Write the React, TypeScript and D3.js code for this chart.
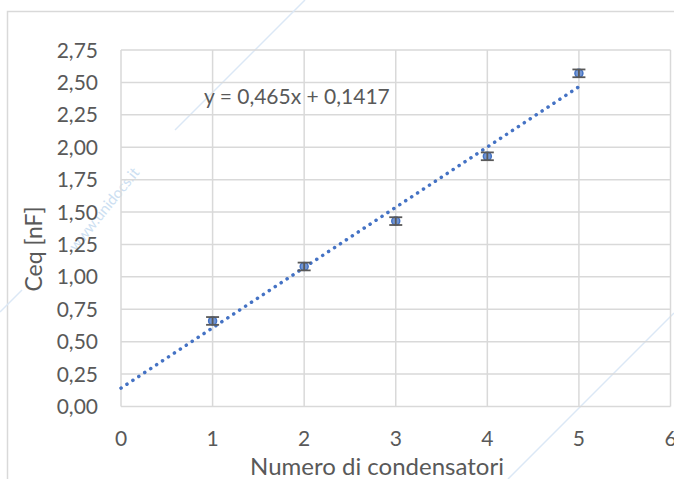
import React from "react";
import * as d3 from "d3";

const xValues = [1, 2, 3, 4, 5];
const yValues = [0.66, 1.08, 1.43, 1.93, 2.57];
const yErrors = [0.03, 0.03, 0.03, 0.03, 0.03];
const slope = 0.465;
const intercept = 0.1417;
const xTicks = [0, 1, 2, 3, 4, 5, 6];
const yTicks = [0, 0.25, 0.5, 0.75, 1, 1.25, 1.5, 1.75, 2, 2.25, 2.5, 2.75];
const xTitle = "Numero di condensatori";
const yTitle = "Ceq [nF]";
const equation = "y = 0,465x + 0,1417";

const W = 674;
const H = 479;
const FONT = "Lato, 'Open Sans', sans-serif";
const TXT = "#595959";
const GRID = "#d9d9d9";
const BLUE = "#4472C4";

export default function App() {
  const x = d3.scaleLinear().domain([0, 6]).range([121, 670.5]);
  const y = d3.scaleLinear().domain([0, 2.75]).range([406.5, 50]);
  const fmt = (v: number) => d3.format(".2f")(v).replace(".", ",");
  const trend = d3
    .line<number>()
    .x((d) => x(d))
    .y((d) => y(slope * d + intercept));

  return (
    <svg
      width={W}
      height={H}
      style={{ position: "absolute", left: 0, top: 0, background: "#fff" }}
      fontFamily={FONT}
    >
      <rect x={0} y={0} width={W} height={H} fill="#fff" />
      {/* outer border */}
      <rect x={7.5} y={11.5} width={W + 10} height={H + 10} fill="none" stroke={GRID} strokeWidth={1.5} />

      {/* watermark */}
      <g stroke="#dbe8f6" strokeWidth={1.5}>
        <line x1={305} y1={0} x2={175} y2={130} />
        <line x1={674} y1={313} x2={508} y2={479} />
        <line x1={22} y1={290} x2={0} y2={312} />
      </g>
      <text
        x={0}
        y={0}
        transform="translate(76,252) rotate(-51)"
        fontSize={15}
        fill="#cddff2"
      >
        www.unidocs.it
      </text>

      {/* gridlines */}
      <g stroke={GRID} strokeWidth={1.5}>
        {yTicks.map((t) => (
          <line key={"h" + t} x1={x(0)} x2={x(6)} y1={y(t)} y2={y(t)} />
        ))}
        {xTicks.map((t) => (
          <line key={"v" + t} x1={x(t)} x2={x(t)} y1={y(0)} y2={y(2.75)} />
        ))}
      </g>

      {/* y tick labels */}
      {yTicks.map((t) => (
        <text key={"yl" + t} x={98} y={y(t)} dy="0.36em" textAnchor="end" fontSize={21} fill={TXT}>
          {fmt(t)}
        </text>
      ))}
      {/* x tick labels */}
      {xTicks.map((t) => (
        <text key={"xl" + t} x={x(t)} y={446} textAnchor="middle" fontSize={21} fill={TXT}>
          {String(t)}
        </text>
      ))}

      {/* axis titles */}
      <text x={377} y={475} textAnchor="middle" fontSize={24} fill={TXT}>
        {xTitle}
      </text>
      <text
        transform={`translate(42,${249}) rotate(-90)`}
        textAnchor="middle"
        fontSize={23}
        fill={TXT}
      >
        {yTitle}
      </text>

      {/* trendline */}
      <path
        d={trend([0, 5]) || ""}
        fill="none"
        stroke={BLUE}
        strokeWidth={3.5}
        strokeLinecap="round"
        strokeDasharray="0.1 7"
      />

      {/* markers */}
      {xValues.map((xv, i) => (
        <circle key={"m" + i} cx={x(xv)} cy={y(yValues[i])} r={4} fill="#7396d3" stroke={BLUE} strokeWidth={1.5} />
      ))}
      {/* error bars */}
      <g stroke={TXT} strokeWidth={1.8}>
        {xValues.map((xv, i) => {
          const top = y(yValues[i] + yErrors[i]);
          const bot = y(yValues[i] - yErrors[i]);
          const cx = x(xv);
          return (
            <g key={"e" + i}>
              <line x1={cx} x2={cx} y1={top} y2={bot} />
              <line x1={cx - 6.5} x2={cx + 6.5} y1={top} y2={top} />
              <line x1={cx - 6.5} x2={cx + 6.5} y1={bot} y2={bot} />
            </g>
          );
        })}
      </g>

      {/* equation */}
      <text x={204} y={104} fontSize={21} fill={TXT}>
        {equation}
      </text>
    </svg>
  );
}
